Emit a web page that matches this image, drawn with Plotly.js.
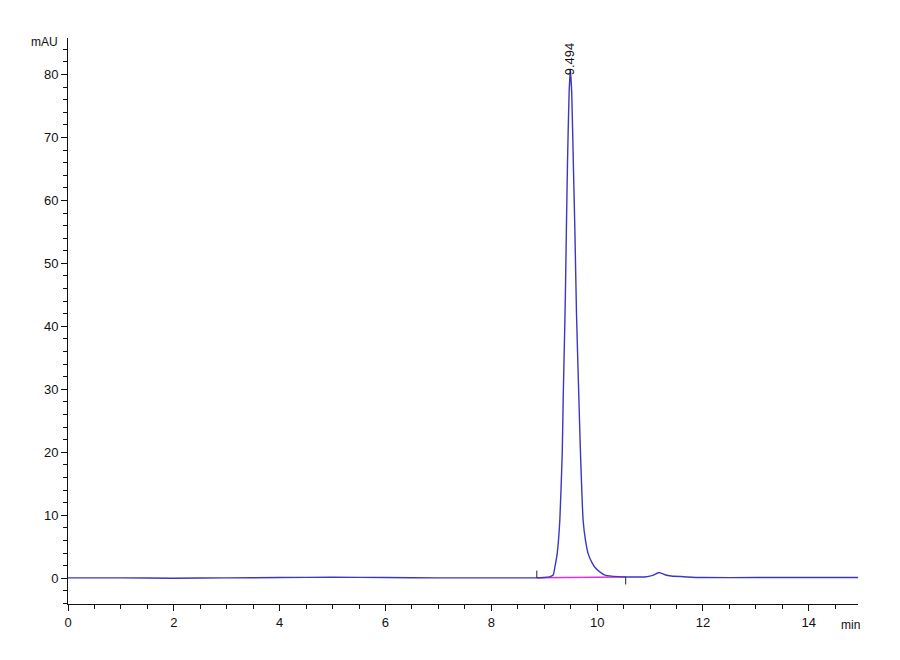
<!DOCTYPE html>
<html>
<head>
<meta charset="utf-8">
<script src="https://cdn.plot.ly/plotly-3.0.1.min.js"></script>
<style>
    html, body { margin: 0; padding: 0; background: #fff; }
    #plot { width: 900px; height: 660px; }
</style>
</head>
<body>
<div id="plot"></div>
<script>
// Chromatogram signal (time in min, absorbance in mAU).
const timeMin = [
    0, 1, 2, 3, 4, 5, 6, 7, 8, 8.5, 8.85, 9.0, 9.1, 9.17, 9.2, 9.245, 9.295, 9.34, 9.36, 9.39, 9.40,
    9.42, 9.44, 9.47, 9.494, 9.52, 9.55, 9.58, 9.61, 9.65, 9.686, 9.735, 9.78, 9.83, 9.9, 9.96, 10.05,
    10.15, 10.4, 10.6, 10.9, 11.05, 11.17, 11.28, 11.4, 11.7, 12, 13, 14, 14.93,
];
const signalMau = [
    0.05, 0.05, 0.0, 0.05, 0.1, 0.15, 0.1, 0.05, 0.05, 0.05, 0.05, 0.1, 0.2, 0.5, 1.7, 3.9, 9.2, 19.7, 29, 40.8, 45,
    56, 66, 77, 80.8, 77, 66, 55, 42, 30, 19.7, 9.2, 6, 3.9, 2.5, 1.7, 1.0,
    0.5, 0.25, 0.2, 0.2, 0.45, 0.9, 0.55, 0.35, 0.2, 0.1, 0.1, 0.1, 0.1,
];

// Integration baseline and its start / end markers.
const baselineTime = [ 8.86, 10.54 ];
const baselineMau = [ 0.05, 0.2 ];
const startMarkTime = [ 8.86, 8.86 ];
const startMarkMau = [ 0.05, 1.2 ];
const endMarkTime = [ 10.54, 10.54 ];
const endMarkMau = [ 0.2, -1.0 ];

// Peak annotation.
const peakTime = 9.494;
const peakHeight = 80.8;
const peakLabel = '9.494';

const xRange = [ 0, 14.93 ];
const yRange = [ -4.1, 85.8 ];

const axisFont = { family: 'Liberation Sans Narrow, Liberation Sans, Arial, sans-serif', size: 13, color: '#111' };

const data = [
    {
        type: 'scatter',
        mode: 'lines',
        x: baselineTime,
        y: baselineMau,
        line: { color: '#e030d8', width: 1.5 },
        hoverinfo: 'skip',
    },
    {
        type: 'scatter',
        mode: 'lines',
        x: timeMin,
        y: signalMau,
        line: { color: '#3b37c4', width: 1.4, shape: 'spline', smoothing: 0.4 },
        name: 'signal',
    },
    {
        type: 'scatter',
        mode: 'lines',
        x: startMarkTime,
        y: startMarkMau,
        line: { color: '#222', width: 1 },
        hoverinfo: 'skip',
    },
    {
        type: 'scatter',
        mode: 'lines',
        x: endMarkTime,
        y: endMarkMau,
        line: { color: '#222', width: 1 },
        hoverinfo: 'skip',
    },
];

const layout = {
    width: 900,
    height: 660,
    margin: { l: 68, r: 42, t: 38, b: 56 },
    paper_bgcolor: '#fff',
    plot_bgcolor: '#fff',
    showlegend: false,
    font: axisFont,
    xaxis: {
        range: xRange,
        showgrid: false,
        zeroline: false,
        showline: true,
        linecolor: '#111',
        linewidth: 1,
        ticks: 'outside',
        ticklen: 6,
        tickcolor: '#111',
        dtick: 2,
        tick0: 0,
        tickfont: axisFont,
        minor: { dtick: 0.5, ticks: 'outside', ticklen: 4, tickcolor: '#111', showgrid: false },
    },
    yaxis: {
        range: yRange,
        showgrid: false,
        zeroline: false,
        showline: true,
        linecolor: '#111',
        linewidth: 1,
        ticks: 'outside',
        ticklen: 6,
        tickcolor: '#111',
        dtick: 10,
        tick0: 0,
        tickfont: axisFont,
        minor: { dtick: 2, ticks: 'outside', ticklen: 4, tickcolor: '#111', showgrid: false },
    },
    annotations: [
        {
            x: peakTime,
            y: peakHeight,
            xref: 'x',
            yref: 'y',
            text: peakLabel,
            textangle: -90,
            showarrow: false,
            xanchor: 'center',
            yanchor: 'bottom',
            yshift: -8,
            font: { ...axisFont, size: 13 },
        },
        {
            x: 0,
            y: 1,
            xref: 'paper',
            yref: 'paper',
            text: 'mAU',
            showarrow: false,
            xanchor: 'right',
            yanchor: 'middle',
            xshift: -8,
            yshift: -4,
            font: { ...axisFont, size: 12 },
        },
        {
            x: 1,
            y: 0,
            xref: 'paper',
            yref: 'paper',
            text: 'min',
            showarrow: false,
            xanchor: 'right',
            yanchor: 'top',
            xshift: 4,
            yshift: -12,
            font: { ...axisFont, size: 12 },
        },
    ],
};

Plotly.newPlot(document.getElementById('plot'), data, layout, { displayModeBar: false, staticPlot: true });
</script>
</body>
</html>
